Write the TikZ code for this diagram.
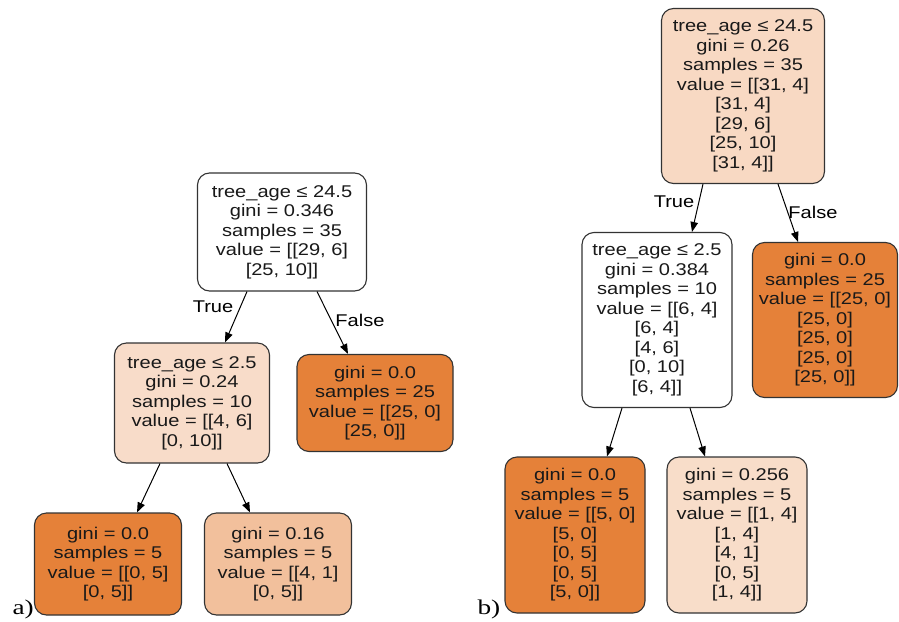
\documentclass[tikz,border=0pt]{standalone}
\usepackage{fontspec}
\setmainfont{Liberation Sans}
\newfontfamily\treefont{Liberation Sans}[FakeStretch=1.18]
\newfontfamily\panelfont{Liberation Serif}[FakeStretch=1.3]
\usetikzlibrary{arrows.meta}
\definecolor{leaforange}{HTML}{E58139}
\definecolor{peachA}{HTML}{F8DCC9}
\definecolor{peachB}{HTML}{F8D9C3}
\definecolor{peachC}{HTML}{F2C09C}
\definecolor{peachD}{HTML}{F8DDC9}
\definecolor{nodeline}{HTML}{333333}
\begin{document}
\begin{tikzpicture}[x=1pt,y=-1pt,
  treenode/.style={draw=nodeline, line width=1.1pt, rounded corners=12pt,
    align=center, inner sep=0pt, text=black!90,
    font=\treefont\fontsize{17}{19.5}\selectfont},
  edge/.style={draw=black, line width=1pt,
    -{Triangle[length=10pt,width=7.5pt]}},
  edgelabel/.style={font=\treefont\fontsize{17}{19.5}\selectfont},
  panel/.style={font=\panelfont\fontsize{21}{22}\selectfont, anchor=base west}]
\useasboundingbox (0,0) rectangle (899,621);

% ---------- tree a) ----------
\node[treenode, fill=white, minimum width=169pt, minimum height=118pt] (aR) at (282,232)
  {tree\_age ≤ 24.5\\gini = 0.346\\samples = 35\\value = [[29, 6]\\{}[25, 10]]};
\node[treenode, fill=peachA, minimum width=155pt, minimum height=120pt] (aL) at (192,403)
  {tree\_age ≤ 2.5\\gini = 0.24\\samples = 10\\value = [[4, 6]\\{}[0, 10]]};
\node[treenode, fill=leaforange, minimum width=156pt, minimum height=97pt] (aRt) at (375,403)
  {gini = 0.0\\samples = 25\\value = [[25, 0]\\{}[25, 0]]};
\node[treenode, fill=leaforange, minimum width=147pt, minimum height=102pt] (aLL) at (108,564)
  {gini = 0.0\\samples = 5\\value = [[0, 5]\\{}[0, 5]]};
\node[treenode, fill=peachC, minimum width=147pt, minimum height=102pt] (aLR) at (278,564)
  {gini = 0.16\\samples = 5\\value = [[4, 1]\\{}[0, 5]]};

\draw[edge] ([xshift=-35pt]aR.south) -- ([xshift=33pt]aL.north);
\draw[edge] ([xshift=35pt]aR.south) -- ([xshift=-27pt]aRt.north);
\draw[edge] ([xshift=-32pt]aL.south) -- ([xshift=29pt]aLL.north);
\draw[edge] ([xshift=35pt]aL.south) -- ([xshift=-28pt]aLR.north);

\node[edgelabel] (aT) at (213,307) {True};
\node[edgelabel] (aF) at (360,320) {False};
\node[panel] (pa) at (9,614) {a)};

% ---------- tree b) ----------
\node[treenode, fill=peachB, minimum width=163pt, minimum height=175pt] (bR) at (743,96)
  {tree\_age ≤ 24.5\\gini = 0.26\\samples = 35\\value = [[31, 4]\\{}[31, 4]\\{}[29, 6]\\{}[25, 10]\\{}[31, 4]]};
\node[treenode, fill=white, minimum width=150pt, minimum height=175pt] (bL) at (657,320)
  {tree\_age ≤ 2.5\\gini = 0.384\\samples = 10\\value = [[6, 4]\\{}[6, 4]\\{}[4, 6]\\{}[0, 10]\\{}[6, 4]]};
\node[treenode, fill=leaforange, minimum width=145pt, minimum height=155pt] (bRt) at (825,320)
  {gini = 0.0\\samples = 25\\value = [[25, 0]\\{}[25, 0]\\{}[25, 0]\\{}[25, 0]\\{}[25, 0]]};
\node[treenode, fill=leaforange, minimum width=140pt, minimum height=156pt] (bLL) at (575,535)
  {gini = 0.0\\samples = 5\\value = [[5, 0]\\{}[5, 0]\\{}[0, 5]\\{}[0, 5]\\{}[5, 0]]};
\node[treenode, fill=peachD, minimum width=140pt, minimum height=156pt] (bLR) at (737,535)
  {gini = 0.256\\samples = 5\\value = [[1, 4]\\{}[1, 4]\\{}[4, 1]\\{}[0, 5]\\{}[1, 4]]};

\draw[edge] ([xshift=-40pt]bR.south) -- ([xshift=35pt]bL.north);
\draw[edge] ([xshift=35pt]bR.south) -- ([xshift=-27pt]bRt.north);
\draw[edge] ([xshift=-35pt]bL.south) -- ([xshift=32pt]bLL.north);
\draw[edge] ([xshift=33pt]bL.south) -- ([xshift=-32pt]bLR.north);

\node[edgelabel] (bT) at (674,202) {True};
\node[edgelabel] (bF) at (813,212) {False};
\node[panel] (pb) at (474,614) {b)};
\end{tikzpicture}
\end{document}
